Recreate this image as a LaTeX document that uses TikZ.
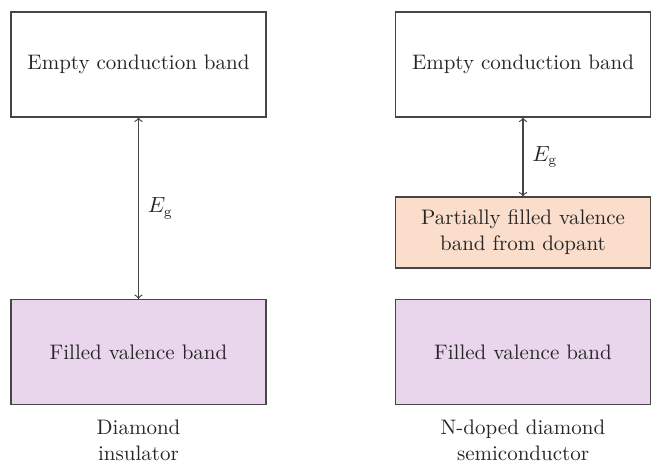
\documentclass[tikz,border=0pt]{standalone}
\usetikzlibrary{positioning}
\definecolor{valencefill}{RGB}{234,214,236}
\definecolor{dopantfill}{RGB}{250,221,203}
\definecolor{edgegray}{RGB}{70,70,70}

\begin{document}
\begin{tikzpicture}[
    x=0.5pt, y=-0.5pt,
    >=to,
    every node/.style={font=\fontsize{10.5}{13}\selectfont, text=black!85},
    band/.style={
        draw=edgegray, line width=0.6pt,
        minimum width=127.5pt, minimum height=52.5pt,
        align=center, inner sep=0pt
    },
    emptyband/.style={band, fill=white},
    valenceband/.style={band, fill=valencefill},
    dopantband/.style={band, fill=dopantfill, minimum height=35.5pt},
    caption/.style={align=center},
    gap/.style={<->, draw=edgegray, line width=0.6pt}
]
\useasboundingbox (0,0) rectangle (651,463);

% Diamond insulator
\node[emptyband]   (cbL) at (138.5, 64.5)  {Empty conduction band};
\node[valenceband] (vbL) at (138.5, 352)   {Filled valence band};
\draw[gap] (cbL.south) -- (vbL.north)
    node[midway, right=1pt] {$E_{\mathrm{g}}$};
\node[caption] (capL) at (138.5, 440) {Diamond\\insulator};

% N-doped diamond semiconductor
\node[emptyband]   (cbR) at (523, 64.5)  {Empty conduction band};
\node[dopantband]  (dbR) at (523, 232.5) {Partially filled valence\\band from dopant};
\node[valenceband] (vbR) at (523, 352)   {Filled valence band};
\draw[gap] (cbR.south) -- (dbR.north)
    node[midway, right=1pt] {$E_{\mathrm{g}}$};
\node[caption] (capR) at (523, 440) {N-doped diamond\\semiconductor};

\end{tikzpicture}
\end{document}
